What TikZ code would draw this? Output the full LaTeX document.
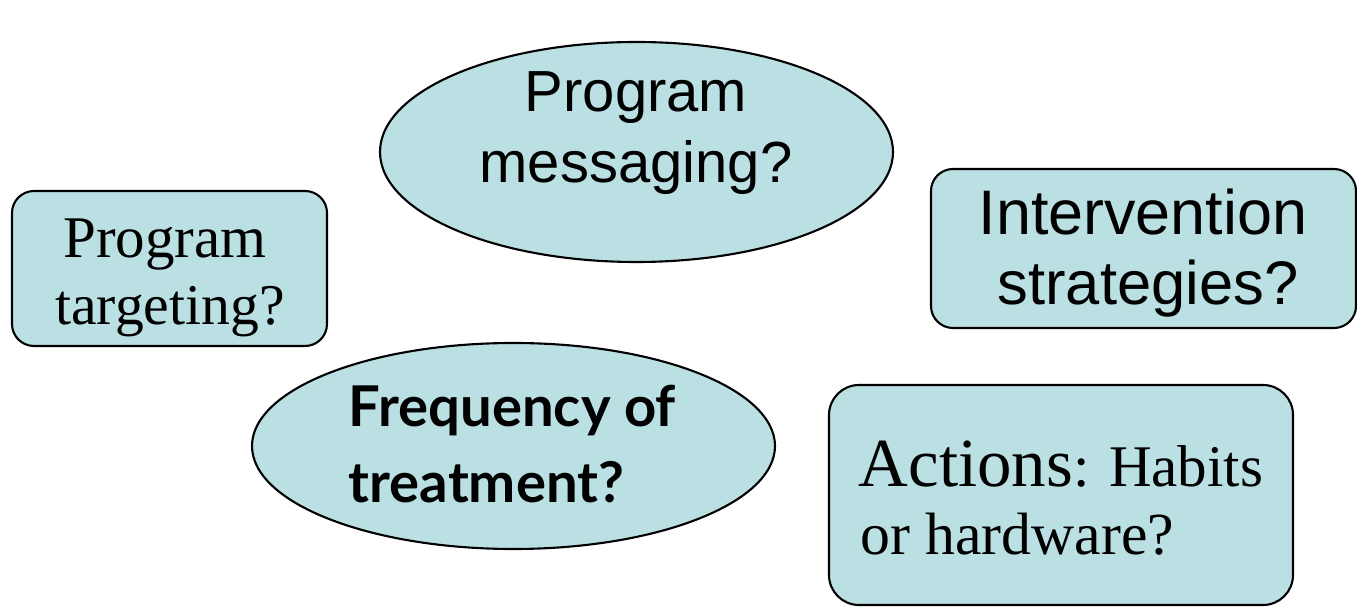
\documentclass[tikz,border=0pt]{standalone}
\usepackage{fontspec}
\setmainfont{Liberation Serif}
\setsansfont{Liberation Sans}
\newfontfamily\freqfont{Lato}
\usetikzlibrary{shapes.geometric}
\definecolor{bubblefill}{RGB}{187,224,227}

\begin{document}
\begin{tikzpicture}[
    bubble/.style = {ellipse, draw = black, line width = 0.6pt, fill = bubblefill, inner sep = 0pt},
    roundbox/.style = {rectangle, rounded corners = 0.22cm, draw = black, line width = 0.6pt, fill = bubblefill, inner sep = 0pt},
    label text/.style = {inner sep = 0pt, anchor = base}
  ]
    \useasboundingbox (0,0) rectangle (13.57,-6.07);
    % shapes
    \node[bubble, minimum width = 5.13cm, minimum height = 2.20cm] (msg) at (6.365,-1.52) {};
    \node[roundbox, minimum width = 3.15cm, minimum height = 1.55cm] (tgt) at (1.695,-2.685) {};
    \node[roundbox, minimum width = 4.25cm, minimum height = 1.59cm] (intv) at (11.435,-2.485) {};
    \node[bubble, minimum width = 5.23cm, minimum height = 2.06cm] (freq) at (5.135,-4.46) {};
    \node[roundbox, rounded corners = 0.3cm, minimum width = 4.64cm, minimum height = 2.20cm] (act) at (10.61,-4.95) {};
    % texts
    \node[label text, font = \sffamily\fontsize{16.5}{20}\selectfont] (msgA) at (6.36,-1.12) {Program};
    \node[label text, font = \sffamily\fontsize{16.5}{20}\selectfont] (msgB) at (6.36,-1.83) {messaging?};
    \node[label text, font = \rmfamily\fontsize{16.8}{19}\selectfont] (tgtA) at (1.65,-2.58) {Program};
    \node[label text, font = \rmfamily\fontsize{16.4}{19}\selectfont] (tgtB) at (1.70,-3.25) {targeting?};
    \node[label text, font = \sffamily\fontsize{17.9}{20}\selectfont] (intvA) at (11.43,-2.35) {Intervention};
    \node[label text, font = \sffamily\fontsize{17.5}{20}\selectfont] (intvB) at (11.48,-3.05) {strategies?};
    \node[label text, anchor = base west, font = \freqfont\bfseries\fontsize{16}{20}\selectfont] (freqA) at (3.48,-4.27) {Frequency of};
    \node[label text, anchor = base west, font = \freqfont\bfseries\fontsize{16}{20}\selectfont] (freqB) at (3.48,-5.03) {treatment?};
    \node[label text, anchor = base west, font = \rmfamily\fontsize{16.8}{20}\selectfont] (actA) at (8.58,-4.87) {{\fontsize{19.6}{20}\selectfont Actions}: Habits};
    \node[label text, anchor = base west, font = \rmfamily\fontsize{17}{20}\selectfont] (actB) at (8.60,-5.55) {or hardware?};
\end{tikzpicture}
\end{document}
